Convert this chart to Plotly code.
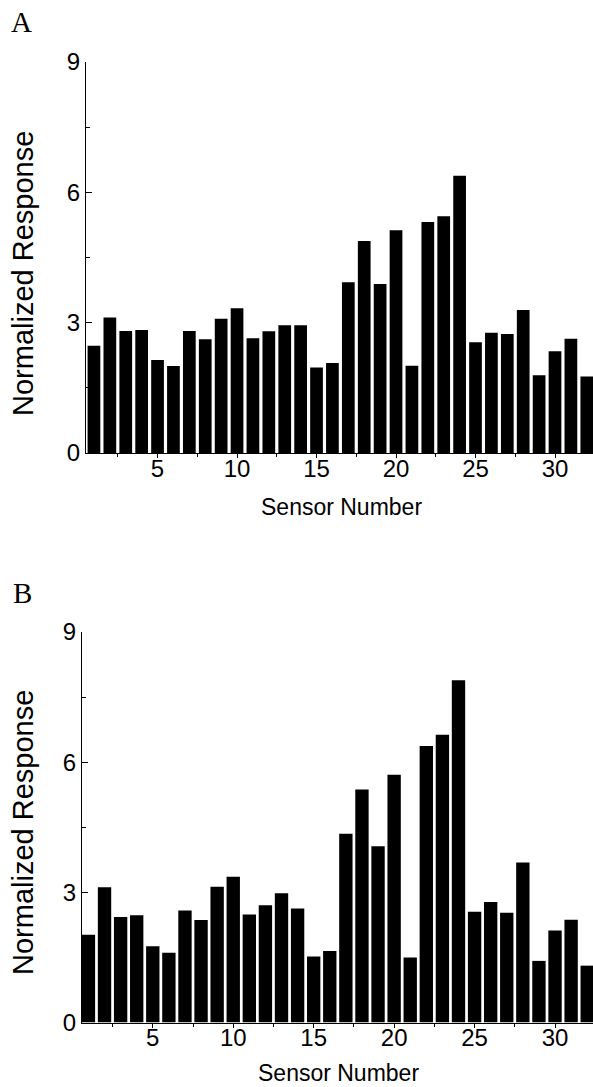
import plotly.graph_objects as go

sensors = list(range(1, 33))
response_a = [2.47, 3.12, 2.81, 2.83, 2.14, 2.00, 2.81, 2.62, 3.09, 3.33, 2.64, 2.80,
              2.94, 2.94, 1.97, 2.07, 3.93, 4.88, 3.89, 5.13, 2.01, 5.32, 5.45, 6.38,
              2.55, 2.77, 2.74, 3.29, 1.79, 2.34, 2.63, 1.76]
response_b = [2.02, 3.12, 2.43, 2.47, 1.76, 1.61, 2.58, 2.36, 3.13, 3.36, 2.49, 2.70,
              2.98, 2.63, 1.52, 1.65, 4.35, 5.37, 4.06, 5.71, 1.50, 6.37, 6.63, 7.89,
              2.55, 2.78, 2.53, 3.69, 1.42, 2.12, 2.37, 1.31]
x_ticks = [5, 10, 15, 20, 25, 30]
y_ticks = [0, 3, 6, 9]

W, H = 593, 1087
def px(x): return x / W
def py(y): return 1 - y / H

FONT = "Liberation Sans, Arial, Helvetica, sans-serif"
SERIF = "Liberation Serif, Times New Roman, serif"

fig = go.Figure()
fig.add_trace(go.Bar(x=sensors, y=response_a, width=0.8, marker=dict(color="black", line=dict(width=0)),
                     xaxis="x", yaxis="y", showlegend=False))
fig.add_trace(go.Bar(x=sensors, y=response_b, width=0.83, marker=dict(color="black", line=dict(width=0)),
                     xaxis="x2", yaxis="y2", showlegend=False))

xcommon = dict(tickvals=x_ticks, ticktext=[str(v) for v in x_ticks], ticks="outside", ticklen=4,
               tickwidth=1, tickcolor="black", showline=True, linecolor="black", linewidth=1.2,
               showgrid=False, zeroline=False, automargin=False, ticklabelstandoff=-10,
               tickfont=dict(family=FONT, size=24, color="black"),
               minor=dict(dtick=2.5, tick0=0, ticks="outside", ticklen=3, tickcolor="black"))
ycommon = dict(range=[0, 9], tickvals=y_ticks, ticktext=[str(v) for v in y_ticks], ticks="inside",
               ticklen=6, tickwidth=1, tickcolor="black", showline=True, linecolor="black",
               linewidth=1.2, showgrid=False, zeroline=False, automargin=False,
               tickfont=dict(family=FONT, size=24, color="black"),
               minor=dict(dtick=1.5, tick0=0, ticks="inside", ticklen=4, tickcolor="black"))

fig.update_layout(
    template="none",
    width=W, height=H, margin=dict(l=0, r=0, t=0, b=0, pad=0, autoexpand=False),
    paper_bgcolor="white", plot_bgcolor="white",
    xaxis=dict(domain=[px(86), 1], range=[0.5, 32.39], anchor="y", **xcommon),
    yaxis=dict(domain=[py(453), py(62)], anchor="x", **ycommon),
    xaxis2=dict(domain=[px(82), 1], range=[0.6, 32.36], anchor="y2", **xcommon),
    yaxis2=dict(domain=[py(1022.5), py(632)], anchor="x2", **ycommon),
)

ann = []
def add(text, x, y, size, family, angle=0):
    ann.append(dict(text=text, x=px(x), y=py(y), xref="paper", yref="paper", xanchor="center",
                    yanchor="middle", showarrow=False, textangle=angle,
                    font=dict(family=family, size=size, color="black")))

add("A", 21, 22.5, 29, SERIF)
add("B", 22, 592.5, 29, SERIF)
add("Normalized Response", 23, 274, 29, FONT, -90)
add("Normalized Response", 23, 833, 29, FONT, -90)
add("Sensor Number", 341, 507, 23, FONT)
add("Sensor Number", 338, 1073, 23, FONT)
fig.update_layout(annotations=ann)

fig.write_html("out.html")
